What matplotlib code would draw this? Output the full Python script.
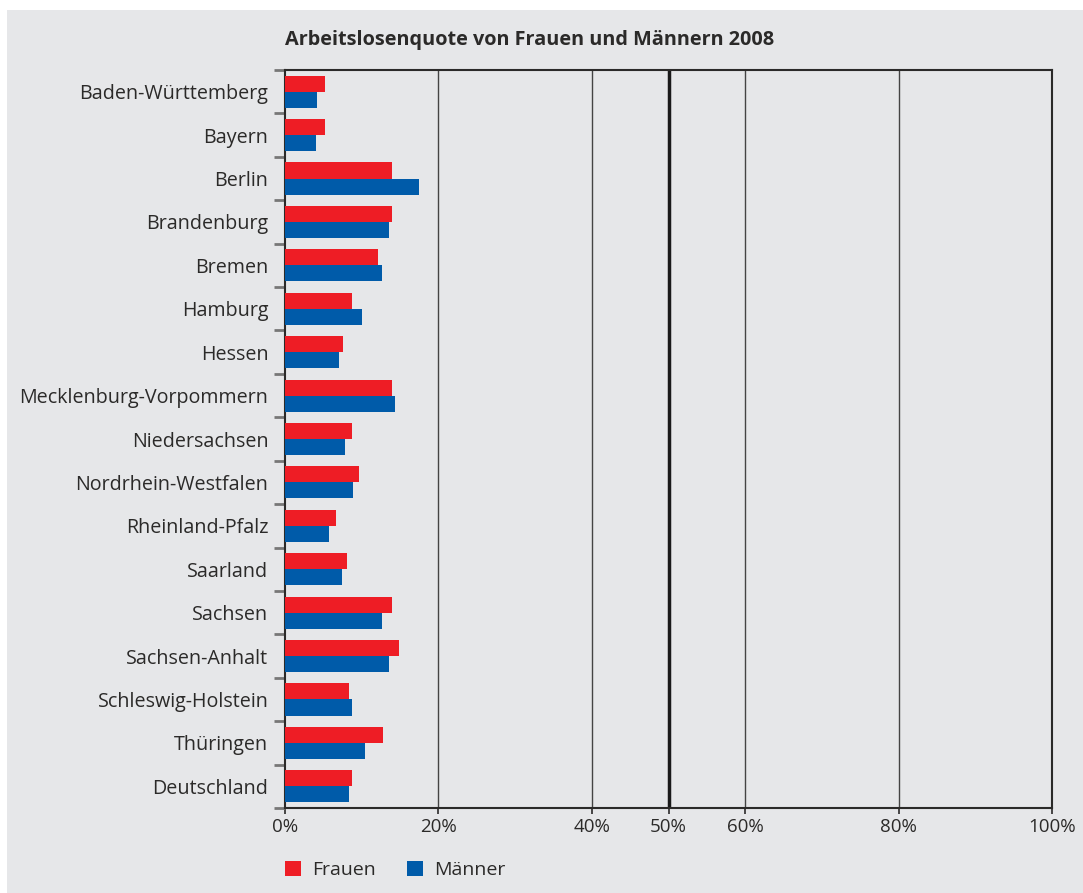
import numpy as np
import matplotlib.pyplot as plt
from matplotlib.patches import Rectangle, Patch

plt.rcParams['font.family'] = ['Open Sans', 'DejaVu Sans']

# Arbeitslosenquote 2008 in %
laender = ['Baden-Württemberg', 'Bayern', 'Berlin', 'Brandenburg', 'Bremen',
           'Hamburg', 'Hessen', 'Mecklenburg-Vorpommern', 'Niedersachsen',
           'Nordrhein-Westfalen', 'Rheinland-Pfalz', 'Saarland', 'Sachsen',
           'Sachsen-Anhalt', 'Schleswig-Holstein', 'Thüringen', 'Deutschland']
frauen = [5.2, 5.2, 14.0, 13.9, 12.1, 8.7, 7.5, 13.9, 8.7, 9.6, 6.6, 8.1, 13.9, 14.9, 8.3, 12.8, 8.8]
maenner = [4.2, 4.0, 17.5, 13.5, 12.6, 10.0, 7.0, 14.3, 7.8, 8.9, 5.7, 7.4, 12.7, 13.5, 8.7, 10.4, 8.3]
xticks = [0, 20, 40, 50, 60, 80, 100]

red = '#ee1d25'
blue = '#005ba9'
bg = '#e6e7e9'
dark = '#2b2a29'

fig = plt.figure(figsize=(10.83, 8.93), dpi=100, facecolor='white')
fig.patches.append(Rectangle((7 / 1083, 0), 1, 1 - 10 / 893, transform=fig.transFigure,
                             facecolor=bg, edgecolor='none', zorder=-10))

ax = fig.add_axes([285 / 1083, 1 - 808 / 893, (1052 - 285) / 1083, (808 - 70) / 893])
ax.set_facecolor(bg)

y = np.arange(len(laender))
h = 0.37
ax.barh(y - h / 2, frauen, height=h, color=red, label='Frauen', zorder=3)
ax.barh(y + h / 2, maenner, height=h, color=blue, label='Männer', zorder=3)

ax.set_xlim(0, 100)
ax.set_ylim(len(laender) - 0.5, -0.5)

for v in [20, 40, 60, 80]:
    ax.axvline(v, color='#444444', lw=1.0, zorder=1)
ax.axvline(50, color='#1a1a1a', lw=2.5, zorder=1)

for s in ax.spines.values():
    s.set_color(dark)
    s.set_linewidth(1.5)

ax.set_xticks(xticks)
ax.set_xticklabels([f'{v}%' for v in xticks], fontsize=13.5, color=dark)
ax.tick_params(axis='x', length=4, width=1.2, color=dark, pad=3)

ax.set_yticks(y)
ax.set_yticklabels(laender, fontsize=14.2, color=dark)
ax.tick_params(axis='y', which='major', length=0, pad=12)
ax.set_yticks(np.arange(-0.5, len(laender), 1.0), minor=True)
ax.tick_params(axis='y', which='minor', length=8, width=2, color='#777777')

fig.text(285 / 1083, 1 - 40 / 893, 'Arbeitslosenquote von Frauen und Männern 2008',
         fontsize=14.3, fontweight='bold', color=dark, ha='left', va='center')

handles = [Patch(facecolor=red, label='Frauen'), Patch(facecolor=blue, label='Männer')]
fig.legend(handles=handles, loc='center left', bbox_to_anchor=(285 / 1083, 1 - 870 / 893),
           ncol=2, frameon=False, fontsize=14, handlelength=0.8, handleheight=0.8,
           handletextpad=0.6, columnspacing=1.6, labelcolor=dark,
           borderpad=0, borderaxespad=0)

fig.savefig('out.png', dpi=100, facecolor='white')
